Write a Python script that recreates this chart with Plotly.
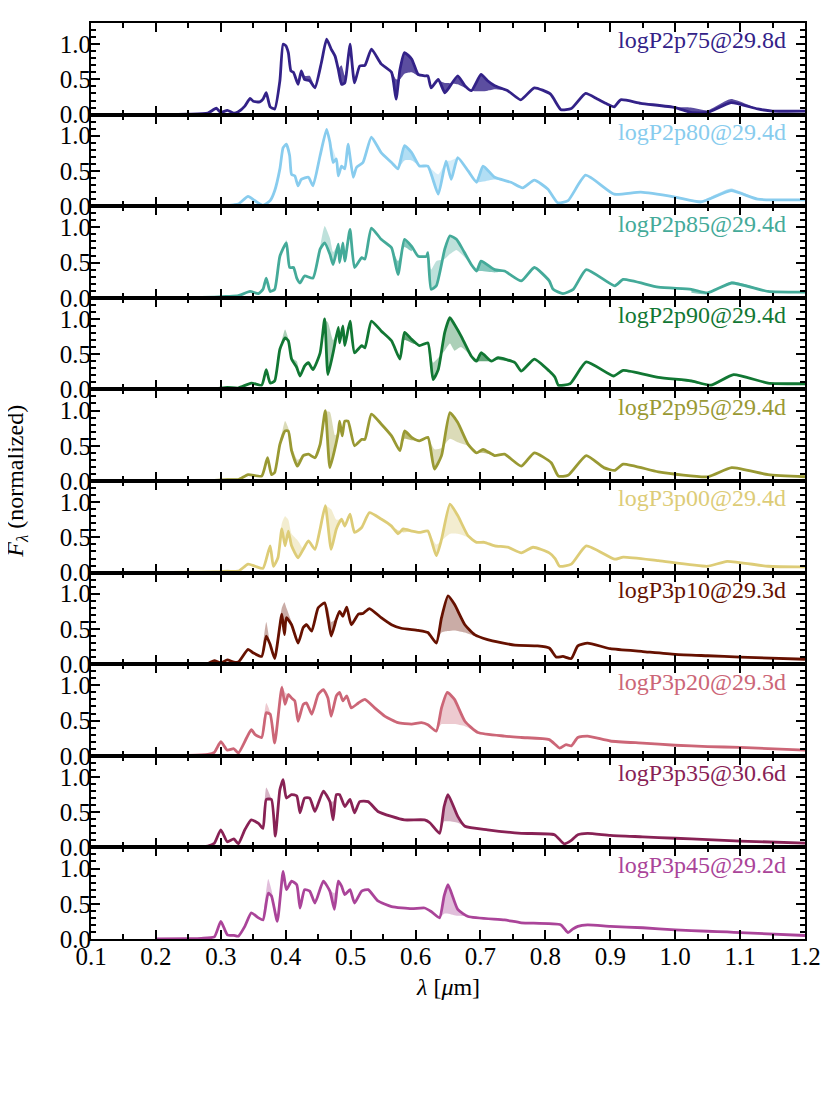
import plotly.graph_objects as go
from plotly.subplots import make_subplots

# model names and colours (one panel each, top to bottom)
labels = ["logP2p75@29.8d", "logP2p80@29.4d", "logP2p85@29.4d", "logP2p90@29.4d",
          "logP2p95@29.4d", "logP3p00@29.4d", "logP3p10@29.3d", "logP3p20@29.3d",
          "logP3p35@30.6d", "logP3p45@29.2d"]
colors = ["#332288", "#88CCEE", "#44AA99", "#117733", "#999933",
          "#DDCC77", "#661100", "#CC6677", "#882255", "#AA4499"]

# ---- spectra: wavelength [um] and normalised flux ----
wl_p2p75 = [0.20, 0.25, 0.28, 0.293, 0.30, 0.31, 0.32, 0.327,
            0.337, 0.345, 0.35, 0.36, 0.365, 0.37, 0.376, 0.383,
            0.391, 0.396, 0.40, 0.404, 0.408, 0.412, 0.419, 0.424,
            0.429, 0.437, 0.445, 0.455, 0.463, 0.47, 0.476, 0.481,
            0.486, 0.491, 0.496, 0.499, 0.506, 0.514, 0.522, 0.532,
            0.547, 0.563, 0.57, 0.576, 0.583, 0.594, 0.604, 0.614,
            0.619, 0.624, 0.635, 0.645, 0.65, 0.665, 0.676, 0.686,
            0.701, 0.711, 0.722, 0.742, 0.762, 0.783, 0.808, 0.824,
            0.84, 0.862, 0.88, 0.895, 0.906, 0.916, 0.947, 1.0,
            1.024, 1.05, 1.086, 1.127, 1.15, 1.2]
fx_p2p75 = [0.0, 0.005, 0.02, 0.09, 0.03, 0.06, 0.02, 0.04,
            0.12, 0.23, 0.19, 0.18, 0.22, 0.31, 0.11, 0.08,
            0.48, 1.0, 0.98, 0.88, 0.62, 0.60, 0.43, 0.62,
            0.50, 0.48, 0.38, 0.74, 1.07, 0.93, 0.83, 0.64,
            0.43, 0.45, 0.79, 1.0, 0.45, 0.69, 0.70, 0.93,
            0.72, 0.60, 0.22, 0.64, 0.88, 0.79, 0.57, 0.55,
            0.55, 0.38, 0.50, 0.31, 0.36, 0.55, 0.41, 0.34,
            0.57, 0.48, 0.41, 0.34, 0.21, 0.38, 0.29, 0.07,
            0.085, 0.30, 0.22, 0.15, 0.11, 0.21, 0.16, 0.10,
            0.03, 0.03, 0.17, 0.08, 0.05, 0.05]

wl_p2p80 = [0.20, 0.25, 0.30, 0.32, 0.327, 0.342, 0.352, 0.365,
            0.376, 0.383, 0.391, 0.396, 0.401, 0.406, 0.409, 0.414,
            0.419, 0.424, 0.435, 0.442, 0.453, 0.463, 0.468, 0.473,
            0.478, 0.481, 0.486, 0.491, 0.496, 0.504, 0.509, 0.519,
            0.532, 0.547, 0.563, 0.573, 0.583, 0.594, 0.606, 0.619,
            0.635, 0.647, 0.655, 0.665, 0.681, 0.694, 0.704, 0.722,
            0.747, 0.765, 0.783, 0.804, 0.819, 0.835, 0.862, 0.906,
            0.947, 1.0, 1.04, 1.086, 1.127, 1.2]
fx_p2p80 = [0.0, 0.0, 0.005, 0.02, 0.03, 0.14, 0.08, 0.01,
            0.08, 0.22, 0.53, 0.83, 0.88, 0.72, 0.45, 0.43,
            0.29, 0.38, 0.41, 0.29, 0.72, 1.09, 0.91, 0.62,
            0.67, 0.43, 0.57, 0.53, 0.88, 0.41, 0.55, 0.62,
            0.98, 0.76, 0.62, 0.53, 0.86, 0.76, 0.57, 0.57,
            0.17, 0.64, 0.38, 0.69, 0.50, 0.34, 0.57, 0.41,
            0.34, 0.26, 0.37, 0.24, 0.05, 0.08, 0.44, 0.17,
            0.20, 0.13, 0.06, 0.22, 0.10, 0.09]

wl_p2p85 = [0.20, 0.25, 0.29, 0.31, 0.327, 0.345, 0.358, 0.365,
            0.37, 0.376, 0.383, 0.391, 0.401, 0.406, 0.412, 0.417,
            0.422, 0.429, 0.442, 0.453, 0.460, 0.468, 0.473, 0.481,
            0.483, 0.488, 0.491, 0.499, 0.506, 0.517, 0.522, 0.532,
            0.547, 0.563, 0.573, 0.583, 0.594, 0.604, 0.617, 0.619,
            0.624, 0.632, 0.645, 0.653, 0.663, 0.670, 0.686, 0.694,
            0.701, 0.722, 0.737, 0.763, 0.783, 0.806, 0.812, 0.827,
            0.843, 0.863, 0.907, 0.92, 0.974, 1.025, 1.05, 1.087,
            1.143, 1.2]
fx_p2p85 = [0.0, 0.005, 0.01, 0.02, 0.03, 0.09, 0.06, 0.12,
            0.28, 0.09, 0.12, 0.59, 0.78, 0.43, 0.43, 0.28,
            0.21, 0.31, 0.28, 0.69, 0.78, 0.62, 0.47, 0.76,
            0.50, 0.78, 0.52, 0.97, 0.43, 0.57, 0.55, 0.99,
            0.83, 0.71, 0.33, 0.83, 0.73, 0.59, 0.59, 0.64,
            0.12, 0.17, 0.69, 0.88, 0.83, 0.73, 0.47, 0.38,
            0.52, 0.40, 0.38, 0.24, 0.43, 0.24, 0.12, 0.06,
            0.12, 0.40, 0.17, 0.26, 0.15, 0.12, 0.07, 0.21,
            0.09, 0.08]

wl_p2p90 = [0.20, 0.25, 0.29, 0.31, 0.327, 0.347, 0.363, 0.37,
            0.376, 0.383, 0.391, 0.399, 0.404, 0.409, 0.417, 0.422,
            0.429, 0.435, 0.442, 0.453, 0.460, 0.465, 0.473, 0.481,
            0.483, 0.488, 0.491, 0.499, 0.506, 0.517, 0.522, 0.532,
            0.547, 0.563, 0.576, 0.583, 0.594, 0.606, 0.619, 0.627,
            0.635, 0.645, 0.653, 0.660, 0.670, 0.686, 0.694, 0.701,
            0.717, 0.727, 0.753, 0.763, 0.783, 0.806, 0.815, 0.82,
            0.838, 0.863, 0.905, 0.92, 0.974, 1.025, 1.055, 1.09,
            1.143, 1.2]
fx_p2p90 = [0.0, 0.005, 0.01, 0.03, 0.02, 0.09, 0.06, 0.28,
            0.09, 0.12, 0.57, 0.73, 0.69, 0.43, 0.31, 0.19,
            0.33, 0.38, 0.28, 0.52, 1.0, 0.21, 0.52, 0.88,
            0.66, 0.90, 0.62, 0.97, 0.52, 0.62, 0.59, 0.97,
            0.83, 0.69, 0.43, 0.81, 0.71, 0.62, 0.66, 0.14,
            0.28, 0.81, 1.02, 0.92, 0.76, 0.47, 0.40, 0.52,
            0.40, 0.45, 0.38, 0.26, 0.43, 0.26, 0.17, 0.06,
            0.08, 0.39, 0.19, 0.27, 0.17, 0.12, 0.06, 0.21,
            0.09, 0.08]

wl_p2p95 = [0.20, 0.25, 0.29, 0.31, 0.327, 0.342, 0.363, 0.372,
            0.378, 0.383, 0.391, 0.399, 0.404, 0.409, 0.418, 0.427,
            0.435, 0.445, 0.453, 0.461, 0.468, 0.476, 0.481, 0.483,
            0.487, 0.491, 0.496, 0.506, 0.517, 0.522, 0.532, 0.547,
            0.563, 0.576, 0.583, 0.594, 0.606, 0.619, 0.629, 0.640,
            0.653, 0.665, 0.681, 0.694, 0.704, 0.722, 0.737, 0.763,
            0.783, 0.809, 0.82, 0.835, 0.863, 0.89, 0.907, 0.92,
            0.974, 1.05, 1.087, 1.143, 1.2]
fx_p2p95 = [0.0, 0.005, 0.01, 0.02, 0.02, 0.09, 0.07, 0.33,
            0.09, 0.12, 0.52, 0.71, 0.71, 0.43, 0.21, 0.36,
            0.38, 0.33, 0.52, 1.0, 0.19, 0.47, 0.69, 0.85,
            0.64, 0.85, 0.85, 0.50, 0.59, 0.59, 0.95, 0.81,
            0.64, 0.43, 0.71, 0.62, 0.57, 0.62, 0.17, 0.36,
            0.97, 0.83, 0.52, 0.40, 0.45, 0.36, 0.38, 0.21,
            0.40, 0.26, 0.07, 0.08, 0.36, 0.19, 0.15, 0.24,
            0.13, 0.06, 0.19, 0.09, 0.06]

wl_p3p00 = [0.20, 0.25, 0.29, 0.31, 0.327, 0.342, 0.353, 0.365,
            0.376, 0.381, 0.388, 0.394, 0.399, 0.404, 0.409, 0.419,
            0.427, 0.435, 0.445, 0.453, 0.461, 0.470, 0.478, 0.486,
            0.491, 0.499, 0.506, 0.517, 0.529, 0.547, 0.563, 0.573,
            0.581, 0.594, 0.606, 0.619, 0.632, 0.640, 0.653, 0.665,
            0.681, 0.694, 0.706, 0.722, 0.742, 0.763, 0.781, 0.806,
            0.815, 0.822, 0.84, 0.863, 0.907, 0.92, 0.974, 1.05,
            1.08, 1.143, 1.2]
fx_p3p00 = [0.0, 0.005, 0.01, 0.02, 0.02, 0.12, 0.09, 0.06,
            0.38, 0.09, 0.21, 0.62, 0.38, 0.59, 0.38, 0.21,
            0.33, 0.45, 0.33, 0.62, 0.95, 0.33, 0.62, 0.76,
            0.66, 0.83, 0.57, 0.64, 0.85, 0.76, 0.66, 0.55,
            0.62, 0.59, 0.57, 0.59, 0.24, 0.47, 0.97, 0.81,
            0.52, 0.43, 0.43, 0.38, 0.36, 0.28, 0.36, 0.28,
            0.20, 0.09, 0.12, 0.38, 0.19, 0.22, 0.17, 0.09,
            0.16, 0.09, 0.08]

wl_p3p10 = [0.20, 0.25, 0.28, 0.29, 0.30, 0.31, 0.32, 0.327,
            0.342, 0.35, 0.363, 0.37, 0.376, 0.383, 0.394, 0.398,
            0.401, 0.409, 0.419, 0.427, 0.432, 0.440, 0.45, 0.46,
            0.465, 0.47, 0.478, 0.483, 0.488, 0.494, 0.501, 0.512,
            0.519, 0.529, 0.547, 0.563, 0.578, 0.604, 0.619, 0.632,
            0.64, 0.65, 0.66, 0.676, 0.691, 0.711, 0.753, 0.788,
            0.806, 0.817, 0.827, 0.84, 0.85, 0.865, 0.90, 0.95,
            1.0, 1.05, 1.10, 1.20]
fx_p3p10 = [0.0, 0.0, 0.01, 0.05, 0.02, 0.06, 0.03, 0.03,
            0.21, 0.16, 0.11, 0.40, 0.28, 0.08, 0.71, 0.42,
            0.66, 0.56, 0.30, 0.52, 0.56, 0.47, 0.80, 0.87,
            0.66, 0.40, 0.64, 0.75, 0.68, 0.81, 0.56, 0.71,
            0.72, 0.79, 0.66, 0.56, 0.51, 0.48, 0.45, 0.30,
            0.66, 0.97, 0.85, 0.56, 0.42, 0.35, 0.27, 0.26,
            0.23, 0.10, 0.11, 0.08, 0.26, 0.30, 0.22, 0.18,
            0.14, 0.12, 0.10, 0.07]

wl_p3p20 = [0.20, 0.25, 0.28, 0.29, 0.30, 0.31, 0.32, 0.327,
            0.34, 0.347, 0.353, 0.363, 0.37, 0.376, 0.383, 0.394,
            0.399, 0.404, 0.409, 0.414, 0.419, 0.427, 0.432, 0.44,
            0.45, 0.458, 0.465, 0.47, 0.478, 0.483, 0.488, 0.494,
            0.501, 0.512, 0.522, 0.537, 0.553, 0.573, 0.594, 0.609,
            0.619, 0.632, 0.640, 0.649, 0.660, 0.676, 0.696, 0.737,
            0.763, 0.806, 0.822, 0.832, 0.84, 0.85, 0.865, 0.90,
            0.95, 1.0, 1.05, 1.10, 1.20]
fx_p3p20 = [0.0, 0.005, 0.02, 0.05, 0.20, 0.08, 0.10, 0.04,
            0.26, 0.37, 0.30, 0.26, 0.61, 0.59, 0.18, 0.97,
            0.73, 0.87, 0.82, 0.78, 0.49, 0.73, 0.75, 0.59,
            0.87, 0.94, 0.82, 0.56, 0.85, 0.90, 0.78, 0.85,
            0.68, 0.75, 0.80, 0.68, 0.56, 0.47, 0.45, 0.47,
            0.44, 0.35, 0.68, 0.90, 0.80, 0.49, 0.33, 0.28,
            0.26, 0.23, 0.11, 0.16, 0.14, 0.26, 0.28, 0.21,
            0.18, 0.15, 0.13, 0.12, 0.08]

wl_p3p35 = [0.20, 0.25, 0.28, 0.29, 0.30, 0.31, 0.32, 0.327,
            0.337, 0.347, 0.358, 0.365, 0.37, 0.378, 0.384, 0.391,
            0.396, 0.401, 0.409, 0.417, 0.422, 0.429, 0.437, 0.445,
            0.458, 0.468, 0.473, 0.478, 0.483, 0.491, 0.499, 0.506,
            0.514, 0.527, 0.542, 0.563, 0.583, 0.614, 0.622, 0.637,
            0.644, 0.65, 0.665, 0.676, 0.711, 0.763, 0.814, 0.829,
            0.84, 0.85, 0.865, 0.90, 0.95, 1.0, 1.05, 1.10,
            1.20]
fx_p3p35 = [0.0, 0.005, 0.02, 0.06, 0.25, 0.08, 0.12, 0.05,
            0.25, 0.39, 0.34, 0.27, 0.68, 0.68, 0.16, 0.82,
            0.96, 0.70, 0.75, 0.73, 0.49, 0.70, 0.70, 0.51,
            0.80, 0.65, 0.39, 0.75, 0.75, 0.58, 0.68, 0.49,
            0.65, 0.65, 0.51, 0.44, 0.39, 0.39, 0.35, 0.20,
            0.58, 0.75, 0.44, 0.30, 0.25, 0.20, 0.18, 0.05,
            0.10, 0.18, 0.20, 0.17, 0.15, 0.13, 0.11, 0.09,
            0.06]

wl_p3p45 = [0.20, 0.25, 0.27, 0.29, 0.30, 0.31, 0.32, 0.327,
            0.337, 0.347, 0.358, 0.365, 0.373, 0.378, 0.387, 0.396,
            0.401, 0.409, 0.417, 0.422, 0.429, 0.437, 0.445, 0.458,
            0.468, 0.475, 0.481, 0.486, 0.491, 0.499, 0.506, 0.517,
            0.527, 0.542, 0.563, 0.594, 0.614, 0.624, 0.637, 0.644,
            0.65, 0.665, 0.681, 0.737, 0.763, 0.824, 0.835, 0.842,
            0.85, 0.865, 0.90, 0.95, 1.0, 1.05, 1.08, 1.10,
            1.20]
fx_p3p45 = [0.0, 0.005, 0.01, 0.03, 0.25, 0.06, 0.05, 0.04,
            0.18, 0.37, 0.30, 0.27, 0.65, 0.61, 0.25, 0.96,
            0.70, 0.82, 0.77, 0.44, 0.70, 0.68, 0.51, 0.82,
            0.68, 0.42, 0.82, 0.75, 0.63, 0.70, 0.51, 0.68,
            0.70, 0.54, 0.46, 0.43, 0.44, 0.39, 0.30, 0.61,
            0.77, 0.42, 0.32, 0.27, 0.23, 0.20, 0.09, 0.14,
            0.18, 0.20, 0.18, 0.16, 0.13, 0.11, 0.10, 0.09,
            0.05]

# ---- comparison models: pieces where they depart from the main spectrum ----
# model A (drawn pale), model B (drawn dark); each piece = (wavelengths, flux)
alt_a_p2p75 = []
alt_b_p2p75 = [([0.424, 0.429, 0.437, 0.445], [0.62, 0.55, 0.55, 0.38]),
               ([0.481, 0.486, 0.491, 0.496], [0.64, 0.70, 0.55, 0.79]),
               ([0.547, 0.563, 0.57, 0.576, 0.583, 0.594, 0.604, 0.614],
                [0.72, 0.62, 0.50, 0.50, 0.58, 0.60, 0.55, 0.55]),
               ([0.624, 0.635, 0.645, 0.65, 0.665, 0.676, 0.686, 0.701, 0.711, 0.722, 0.742],
                [0.38, 0.48, 0.45, 0.45, 0.43, 0.38, 0.34, 0.33, 0.34, 0.36, 0.34]),
               ([1.0, 1.024, 1.05, 1.086, 1.127], [0.10, 0.10, 0.06, 0.22, 0.08])]

alt_a_p2p80 = [([0.463, 0.468, 0.473, 0.478], [1.09, 0.95, 0.80, 0.67]),
               ([0.619, 0.635, 0.647], [0.57, 0.45, 0.64]),
               ([0.647, 0.655, 0.665], [0.64, 0.65, 0.69])]
alt_b_p2p80 = [([0.573, 0.583, 0.594, 0.606], [0.53, 0.65, 0.65, 0.57]),
               ([0.694, 0.704, 0.722, 0.747], [0.34, 0.35, 0.38, 0.34]),
               ([1.0, 1.04, 1.086, 1.127], [0.13, 0.08, 0.25, 0.10])]

alt_a_p2p85 = [([0.391, 0.401, 0.406], [0.59, 0.82, 0.43]),
               ([0.453, 0.460, 0.468, 0.473, 0.481], [0.69, 1.02, 0.85, 0.65, 0.76]),
               ([0.619, 0.624, 0.632, 0.645, 0.653, 0.663, 0.670, 0.686],
                [0.64, 0.40, 0.52, 0.55, 0.62, 0.68, 0.63, 0.47])]
alt_b_p2p85 = [([0.563, 0.573, 0.583, 0.594], [0.71, 0.52, 0.72, 0.66]),
               ([0.694, 0.701, 0.722, 0.737], [0.38, 0.38, 0.36, 0.38]),
               ([1.025, 1.05, 1.087, 1.143], [0.07, 0.05, 0.23, 0.09])]

alt_a_p2p90 = [([0.391, 0.399, 0.404, 0.409, 0.417, 0.422], [0.57, 0.85, 0.72, 0.45, 0.40, 0.19]),
               ([0.453, 0.460, 0.465, 0.473, 0.481], [0.52, 0.98, 0.95, 0.70, 0.88]),
               ([0.619, 0.627, 0.635, 0.645, 0.653, 0.660, 0.670, 0.686],
                [0.66, 0.38, 0.45, 0.55, 0.65, 0.55, 0.60, 0.47])]
alt_b_p2p90 = [([0.576, 0.583, 0.594, 0.606], [0.43, 0.70, 0.66, 0.62]),
               ([0.694, 0.701, 0.717, 0.727, 0.753], [0.40, 0.40, 0.40, 0.42, 0.38]),
               ([0.974, 1.025, 1.055, 1.09], [0.17, 0.10, 0.05, 0.21])]

alt_a_p2p95 = [([0.391, 0.399, 0.404, 0.409, 0.418, 0.427], [0.52, 0.85, 0.75, 0.50, 0.30, 0.36]),
               ([0.453, 0.461, 0.468, 0.476, 0.481], [0.52, 0.98, 0.98, 0.65, 0.69]),
               ([0.619, 0.629, 0.640, 0.653, 0.665, 0.681, 0.694],
                [0.62, 0.45, 0.47, 0.60, 0.55, 0.50, 0.40])]
alt_b_p2p95 = [([0.576, 0.583, 0.594, 0.606], [0.43, 0.60, 0.58, 0.57]),
               ([0.694, 0.704, 0.722], [0.40, 0.40, 0.36])]

alt_a_p3p00 = [([0.388, 0.394, 0.399, 0.404, 0.409, 0.419, 0.427], [0.21, 0.70, 0.80, 0.75, 0.55, 0.45, 0.33]),
               ([0.453, 0.461, 0.470, 0.478, 0.486], [0.62, 0.95, 0.90, 0.75, 0.76]),
               ([0.619, 0.632, 0.640, 0.653, 0.665, 0.681, 0.694],
                [0.59, 0.40, 0.45, 0.55, 0.55, 0.50, 0.43])]
alt_b_p3p00 = [([0.563, 0.573, 0.581, 0.594], [0.66, 0.60, 0.57, 0.59])]

alt_a_p3p10 = [([0.363, 0.37, 0.376], [0.11, 0.60, 0.28]),
               ([0.383, 0.394, 0.398, 0.401, 0.409, 0.419], [0.08, 0.80, 0.88, 0.80, 0.60, 0.30]),
               ([0.419, 0.427, 0.432, 0.440], [0.30, 0.55, 0.58, 0.47]),
               ([0.46, 0.465, 0.47, 0.478], [0.87, 0.80, 0.60, 0.64]),
               ([0.632, 0.64, 0.65, 0.66, 0.676, 0.691, 0.711], [0.30, 0.45, 0.47, 0.48, 0.45, 0.40, 0.35])]
alt_b_p3p10 = []

alt_a_p3p20 = [([0.363, 0.37, 0.376, 0.383], [0.26, 0.75, 0.62, 0.18]),
               ([0.394, 0.399, 0.404], [1.02, 0.90, 0.87]),
               ([0.414, 0.419, 0.427], [0.78, 0.60, 0.73]),
               ([0.465, 0.47, 0.478], [0.82, 0.65, 0.85]),
               ([0.632, 0.640, 0.649, 0.660, 0.676, 0.696], [0.35, 0.45, 0.45, 0.45, 0.42, 0.33])]
alt_b_p3p20 = []

alt_a_p3p35 = [([0.365, 0.37, 0.378, 0.384], [0.27, 0.85, 0.68, 0.16]),
               ([0.417, 0.422, 0.429], [0.73, 0.55, 0.70]),
               ([0.468, 0.473, 0.478], [0.65, 0.65, 0.75]),
               ([0.637, 0.644, 0.65, 0.665, 0.676], [0.20, 0.37, 0.37, 0.35, 0.30])]
alt_b_p3p35 = []

alt_a_p3p45 = [([0.365, 0.373, 0.378, 0.387], [0.27, 0.85, 0.70, 0.25]),
               ([0.417, 0.422, 0.429], [0.77, 0.55, 0.70]),
               ([0.468, 0.475, 0.481], [0.68, 0.65, 0.82]),
               ([0.637, 0.644, 0.65, 0.665, 0.681], [0.30, 0.36, 0.36, 0.33, 0.32])]
alt_b_p3p45 = []

wls = [wl_p2p75, wl_p2p80, wl_p2p85, wl_p2p90, wl_p2p95,
       wl_p3p00, wl_p3p10, wl_p3p20, wl_p3p35, wl_p3p45]
fxs = [fx_p2p75, fx_p2p80, fx_p2p85, fx_p2p90, fx_p2p95,
       fx_p3p00, fx_p3p10, fx_p3p20, fx_p3p35, fx_p3p45]
alts_a = [alt_a_p2p75, alt_a_p2p80, alt_a_p2p85, alt_a_p2p90, alt_a_p2p95,
          alt_a_p3p00, alt_a_p3p10, alt_a_p3p20, alt_a_p3p35, alt_a_p3p45]
alts_b = [alt_b_p2p75, alt_b_p2p80, alt_b_p2p85, alt_b_p2p90, alt_b_p2p95,
          alt_b_p3p00, alt_b_p3p10, alt_b_p3p20, alt_b_p3p35, alt_b_p3p45]

FONT = "Liberation Serif, Times New Roman, serif"
n = len(labels)


def rgba(hexcol, a):
    h = hexcol.lstrip("#")
    return "rgba(%d,%d,%d,%.2f)" % (int(h[0:2], 16), int(h[2:4], 16), int(h[4:6], 16), a)


def band(wl, fx, seg_wl, seg_fx):
    # closed outline: comparison model forward, main spectrum back
    lo, hi = seg_wl[0], seg_wl[-1]
    back = [(w, f) for w, f in zip(wl, fx) if lo <= w <= hi][::-1]
    return list(seg_wl) + [w for w, _ in back], list(seg_fx) + [f for _, f in back]


fig = make_subplots(rows=n, cols=1, shared_xaxes=True, vertical_spacing=0)

for i in range(n):
    assert len(wls[i]) == len(fxs[i]), labels[i]
    row = i + 1
    col = colors[i]
    pale = 0.35
    dark = 0.8 if i == 0 else 0.65
    for pieces, alpha in ((alts_a[i], pale), (alts_b[i], dark)):
        for seg_wl, seg_fx in pieces:
            bx, by = band(wls[i], fxs[i], seg_wl, seg_fx)
            fig.add_trace(go.Scatter(x=bx, y=by, mode="lines", fill="toself",
                                     fillcolor=rgba(col, alpha),
                                     line=dict(width=0, shape="spline", smoothing=0.5),
                                     hoverinfo="skip", showlegend=False),
                          row=row, col=1)
    fig.add_trace(go.Scatter(x=wls[i], y=fxs[i], mode="lines",
                             line=dict(color=col, width=2.8, shape="spline", smoothing=0.5),
                             name=labels[i], showlegend=False),
                  row=row, col=1)
    fig.add_annotation(text=labels[i], xref="x domain" if row == 1 else "x%d domain" % row,
                       yref="y domain" if row == 1 else "y%d domain" % row,
                       x=0.976, y=0.81, xanchor="right", yanchor="middle",
                       showarrow=False, font=dict(family=FONT, size=24, color=col))

axis_common = dict(showline=True, linewidth=2, linecolor="black", mirror="allticks",
                   ticks="inside", ticklen=9, tickwidth=2, tickcolor="black",
                   showgrid=False, zeroline=False,
                   tickfont=dict(family=FONT, size=25, color="black"))

for i in range(n):
    row = i + 1
    fig.update_xaxes(range=[0.1, 1.2], dtick=0.1, tick0=0.1, tickformat=".1f",
                     minor=dict(dtick=0.05, ticks="inside", ticklen=5, tickwidth=1.5,
                                tickcolor="black"),
                     ticklabelstandoff=-6,
                     showticklabels=(row == n), **axis_common, row=row, col=1)
    fig.update_yaxes(range=[0, 1.3], tickvals=[0, 0.5, 1.0],
                     ticktext=["0.0", "0.5", "1.0"],
                     minor=dict(dtick=0.1, ticks="inside", ticklen=5, tickwidth=1.5,
                                tickcolor="black"),
                     ticklabelstandoff=-7,
                     **axis_common, row=row, col=1)

fig.add_annotation(text="<i>F</i><sub><i>λ</i></sub> (normalized)", xref="paper", yref="paper",
                   x=-0.104, y=0.5, textangle=-90, showarrow=False,
                   xanchor="center", yanchor="middle",
                   font=dict(family=FONT, size=24, color="black"))
fig.add_annotation(text="<i>λ</i> [<i>μ</i>m]", xref="paper", yref="paper",
                   x=0.5, y=-0.036, showarrow=False, xanchor="center", yanchor="top",
                   font=dict(family=FONT, size=24, color="black"))

fig.update_layout(width=830, height=1107, plot_bgcolor="white", paper_bgcolor="white",
                  font=dict(family=FONT, size=24, color="black"),
                  margin=dict(l=83, r=33, t=15, b=176), showlegend=False)

fig.write_html("out.html")
